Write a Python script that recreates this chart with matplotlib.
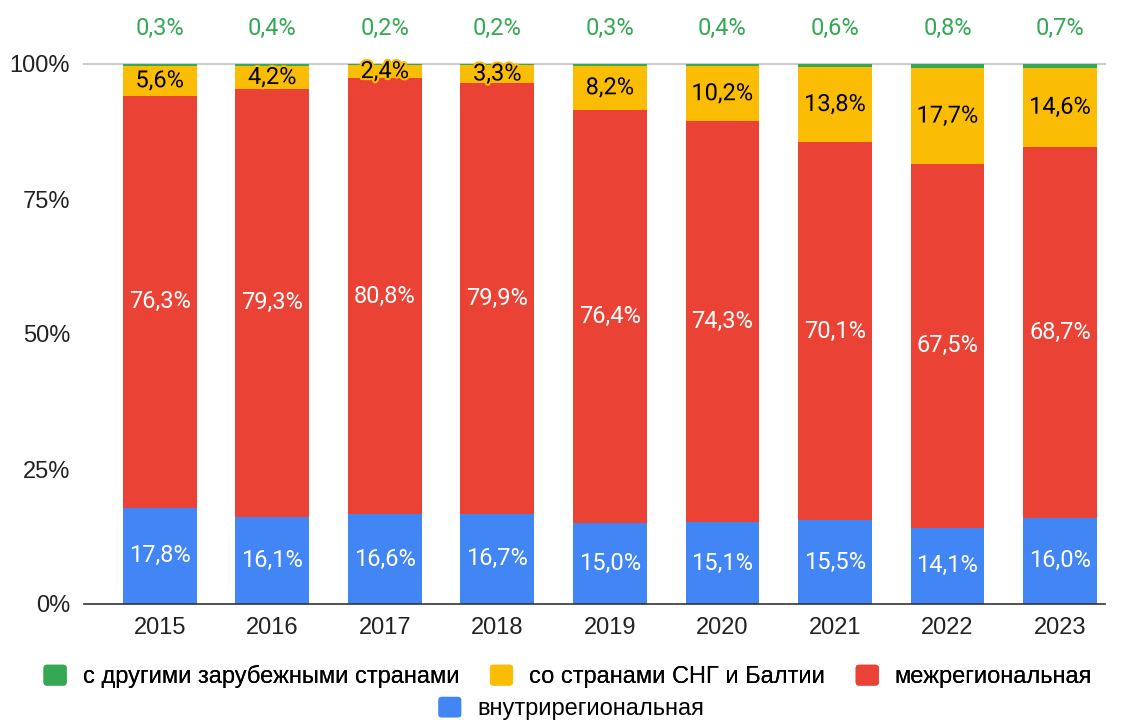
import matplotlib
matplotlib.use("Agg")
import matplotlib.pyplot as plt
import matplotlib.patheffects as pe
from matplotlib.patches import Patch, FancyBboxPatch
from matplotlib.legend_handler import HandlerPatch
import numpy as np

years = ["2015", "2016", "2017", "2018", "2019", "2020", "2021", "2022", "2023"]
other_foreign = [0.3, 0.4, 0.2, 0.2, 0.3, 0.4, 0.6, 0.8, 0.7]
cis_baltic = [5.6, 4.2, 2.4, 3.3, 8.2, 10.2, 13.8, 17.7, 14.6]
interregional = [76.3, 79.3, 80.8, 79.9, 76.4, 74.3, 70.1, 67.5, 68.7]
intraregional = [17.8, 16.1, 16.6, 16.7, 15.0, 15.1, 15.5, 14.1, 16.0]
series_names = ["с другими зарубежными странами", "со странами СНГ и Балтии",
                "межрегиональная", "внутрирегиональная"]
yticklabels = ["0%", "25%", "50%", "75%", "100%"]

C_GREEN = "#34A853"
C_YELLOW = "#FBBC04"
C_RED = "#EA4335"
C_BLUE = "#4285F4"

plt.rcParams['font.family'] = ['Liberation Sans', 'DejaVu Sans']

fig = plt.figure(figsize=(11.29, 7.2), dpi=100)
ax = fig.add_axes([84/1129, (720-604)/720, (1105-84)/1129, (604-64)/720])

x = np.arange(len(years))
b = np.array(intraregional)
r = np.array(interregional)
yv = np.array(cis_baltic)
g = np.array(other_foreign)
tot = b + r + yv + g
bn, rn, yn, gn = b/tot, r/tot, yv/tot, g/tot

w = 0.656
ax.bar(x, bn, w, color=C_BLUE, zorder=2)
ax.bar(x, rn, w, bottom=bn, color=C_RED, zorder=2)
ax.bar(x, yn, w, bottom=bn+rn, color=C_YELLOW, zorder=2)
ax.bar(x, gn, w, bottom=bn+rn+yn, color=C_GREEN, zorder=2)

lf = ['Roboto', 'DejaVu Sans']
FS = 17
def fmt(v):
    return f"{v:.1f}%".replace(".", ",")

for i in range(len(years)):
    ax.text(x[i], bn[i]/2, fmt(b[i]), ha='center', va='center', color='white',
            fontsize=FS, family=lf, zorder=4)
    ax.text(x[i], bn[i] + rn[i]/2, fmt(r[i]), ha='center', va='center', color='white',
            fontsize=FS, family=lf, zorder=4)
    ax.text(x[i], bn[i] + rn[i] + yn[i]/2, fmt(yv[i]), ha='center', va='center', color='black',
            fontsize=FS, family=lf, zorder=4,
            path_effects=[pe.withStroke(linewidth=3, foreground=C_YELLOW)])
    ax.text(x[i], 1.0667, fmt(g[i]), ha='center', va='center', color=C_GREEN,
            fontsize=FS, family=lf, zorder=4, clip_on=False)

ax.set_xlim(-0.674, 8.4)
ax.set_ylim(0, 1.0)
ax.set_yticks([0, 0.25, 0.5, 0.75, 1.0])
ax.set_yticklabels(yticklabels)
ax.set_xticks(x)
ax.set_xticklabels(years)
ax.tick_params(axis='both', length=0, labelsize=FS, colors='#222222')
ax.tick_params(axis='x', pad=9)
ax.tick_params(axis='y', pad=10)
for s in ax.spines.values():
    s.set_visible(False)
ax.axhline(1.0, color='#cccccc', lw=1.5, zorder=1, clip_on=False)
ax.axhline(0.0, color='#333333', lw=1.2, zorder=3, clip_on=False)


class RoundHandler(HandlerPatch):
    def create_artists(self, legend, orig_handle, xdescent, ydescent,
                       width, height, fontsize, trans):
        p = FancyBboxPatch((-xdescent, -ydescent), width, height,
                           boxstyle="round,pad=0,rounding_size=2.5",
                           facecolor=orig_handle.get_facecolor(),
                           edgecolor='none', transform=trans)
        return [p]


hmap = {Patch: RoundHandler()}
h1 = [Patch(facecolor=c, edgecolor=c) for c in [C_GREEN, C_YELLOW, C_RED]]
leg1 = fig.legend(h1, series_names[:3], ncol=3, loc='center', bbox_to_anchor=(0.503, 1-676.5/720),
                  frameon=False, fontsize=FS, handlelength=0.98, handleheight=0.98,
                  handletextpad=0.68, columnspacing=1.3, handler_map=hmap)
h2 = [Patch(facecolor=C_BLUE, edgecolor=C_BLUE)]
leg2 = fig.legend(h2, series_names[3:], loc='center', bbox_to_anchor=(0.506, 1-708.5/720),
                  frameon=False, fontsize=FS, handlelength=0.98, handleheight=0.98,
                  handletextpad=0.68, handler_map=hmap)
fig.add_artist(leg1)

fig.savefig("out.png", dpi=100)
